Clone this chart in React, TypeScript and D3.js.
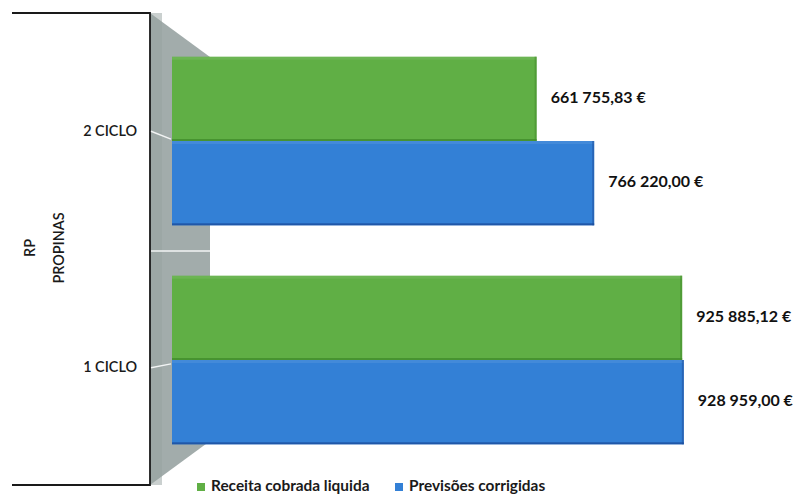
import React from "react";
import * as d3 from "d3";

const categories = ["2 CICLO", "1 CICLO"];
const seriesNames = ["Receita cobrada liquida", "Previsões corrigidas"];
const receita = [661755.83, 925885.12];
const previsoes = [766220.0, 928959.0];
const valueLabels = [
  ["661 755,83 €", "766 220,00 €"],
  ["925 885,12 €", "928 959,00 €"],
];
const axisTitles = ["RP", "PROPINAS"];

const W = 794;
const H = 495;
const GREEN = "#60af45";
const BLUE = "#3380d6";
const colors = [GREEN, BLUE];
const dark = ["#3f8a2a", "#1b4a98"];
const FONT = "Lato, 'Open Sans', sans-serif";

export default function App() {
  const x = d3.scaleLinear().domain([0, 1000000]).range([172, 723]);
  const y = d3
    .scaleBand<string>()
    .domain(categories)
    .range([31.5, 469.5])
    .paddingInner(0.23)
    .paddingOuter(0.115);
  const sub = d3.scaleBand<number>().domain([0, 1]).range([0, y.bandwidth()]);
  const series = [receita, previsoes];
  const mid = 251;
  const persp = (v: number) => mid + (v - mid) * 1.08;

  const wall = d3.line()([
    [150, 13],
    [210, 57],
    [210, 441],
    [150, 485],
  ]);

  return (
    <svg
      width={W}
      height={H}
      style={{ position: "absolute", left: 0, top: 0, background: "#fff" }}
      fontFamily={FONT}
    >
      <path d={wall + "Z"} fill="#a2acab" />
      <rect x={150} y={13} width={12} height={472} fill="#96a1a0" opacity={0.5} />
      <path d="M12,13 H150 V485 H12" fill="none" stroke="#1a1a1a" strokeWidth={1.8} />
      <line x1={151} x2={210} y1={mid} y2={mid} stroke="#f2f4f4" strokeWidth={1.5} />
      {categories.map((c) => {
        const cy = (y(c) as number) + y.bandwidth() / 2;
        const ly = persp(cy);
        return (
          <g key={c}>
            <line
              x1={151}
              y1={ly - 1}
              x2={171}
              y2={cy + (ly - cy) * 0.1 + (cy < mid ? -1 : 3)}
              stroke="#f2f4f4"
              strokeWidth={1.5}
            />
            <text
              x={137}
              y={ly}
              textAnchor="end"
              dominantBaseline="middle"
              fontSize={14.4}
              fontWeight={600}
              fill="#1a1a1a"
            >
              {c}
            </text>
          </g>
        );
      })}
      {categories.map((c, ci) =>
        series.map((s, si) => {
          const y0 = (y(c) as number) + (sub(si) as number);
          const h = sub.bandwidth();
          const x0 = x(0);
          const x1 = x(s[ci]);
          return (
            <g key={c + si}>
              <rect x={x0} y={y0} width={x1 - x0} height={h} fill={colors[si]} />
              <rect x={x0} y={y0} width={x1 - x0} height={3} fill="#ffffff" opacity={0.08} />
              <rect x={x1 - 2} y={y0} width={2} height={h} fill={dark[si]} opacity={0.5} />
              <rect x={x0} y={y0 + h - 2} width={x1 - x0} height={2} fill={dark[si]} opacity={0.75} />
              <text
                x={x1 + 14}
                y={y0 + h / 2}
                dominantBaseline="middle"
                fontSize={16}
                fontWeight={700}
                fill="#111"
              >
                {valueLabels[ci][si]}
              </text>
            </g>
          );
        })
      )}
      <text
        transform={`translate(31,248) rotate(-90)`}
        textAnchor="middle"
        dominantBaseline="middle"
        fontSize={14.4}
        fontWeight={600}
        fill="#1a1a1a"
      >
        {axisTitles[0]}
      </text>
      <text
        transform={`translate(60,248) rotate(-90)`}
        textAnchor="middle"
        dominantBaseline="middle"
        fontSize={14.4}
        fontWeight={600}
        fill="#1a1a1a"
      >
        {axisTitles[1]}
      </text>
      {seriesNames.map((n, i) => {
        const lx = [197, 395][i];
        return (
          <g key={n}>
            <rect x={lx} y={483} width={8} height={8} fill={colors[i]} />
            <text x={lx + 14} y={487.5} dominantBaseline="middle" fontSize={15.4} fontWeight={700} fill="#1a1a1a">
              {n}
            </text>
          </g>
        );
      })}
    </svg>
  );
}
